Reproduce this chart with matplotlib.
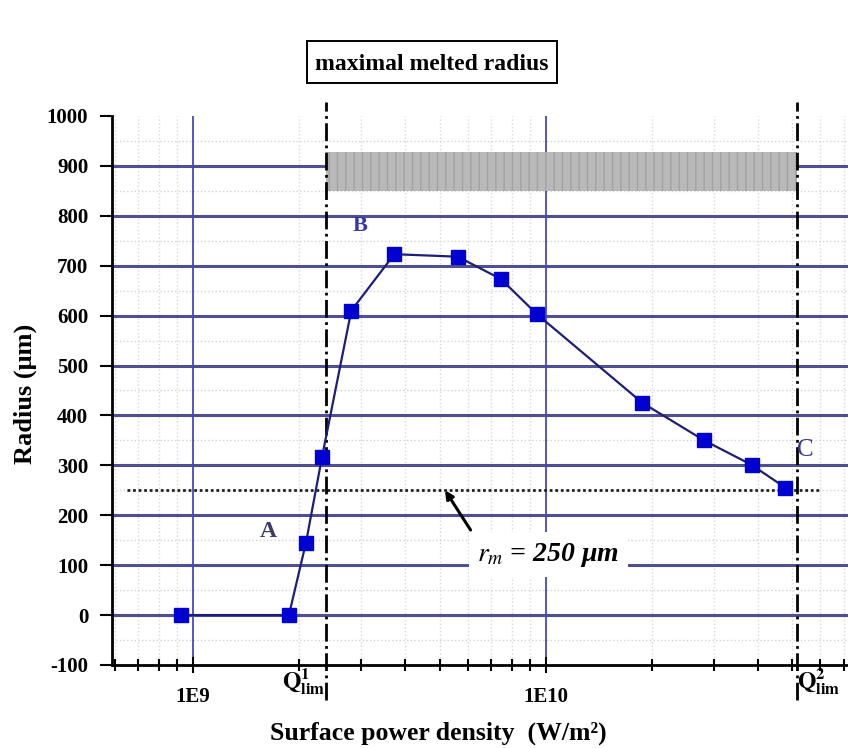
import numpy as np
import matplotlib
matplotlib.use('Agg')
import matplotlib.pyplot as plt
from matplotlib.patches import Rectangle
from matplotlib.ticker import NullFormatter

# melted radius vs surface power density
power_density = [9.25e8, 1.87e9, 2.09e9, 2.32e9, 2.81e9, 3.72e9, 5.63e9,
                 7.47e9, 9.43e9, 1.88e10, 2.81e10, 3.83e10, 4.78e10]
radius = [0, 0, 145, 316, 610, 723, 718, 673, 603, 425, 350, 301, 255]

q_lim1 = 2.38e9
q_lim2 = 5.15e10
r_m = 250
band_low, band_high = 850, 928

x_ticks = [1e9, 1e10]
x_tick_labels = ['1E9', '1E10']
y_ticks = list(range(-100, 1001, 100))

SERIF = ['Liberation Serif', 'DejaVu Serif']
plt.rcParams['font.family'] = SERIF
plt.rcParams['mathtext.fontset'] = 'stix'

fig = plt.figure(figsize=(8.48, 7.48), dpi=100, facecolor='white')
ax = fig.add_axes([0.132, 0.111, 0.868, 0.734])
ax.set_xscale('log')

# grid: navy lines every 100, faint dotted ones in between
for y in range(0, 1000, 100):
    ax.axhline(y, color='#4f4f92', lw=2.2, zorder=1)
for y in range(-50, 1000, 100):
    ax.axhline(y, color='#d2d2dc', lw=1, ls=':', zorder=0.5)
minor_x = [m * 10.0 ** e for e in (8, 9, 10) for m in range(2, 10)]
minor_x = [x for x in minor_x if 5.89e8 < x < 7.19e10]
for x in minor_x:
    ax.axvline(x, color='#d8d8e0', lw=1, ls=':', zorder=0.5)
for x in x_ticks:
    ax.axvline(x, color='#4646c0', lw=1.3, zorder=1)

# shaded band between the two limits
ax.fill_between([q_lim1, q_lim2], band_low, band_high, facecolor='#b9b9b9',
                edgecolor='#a2a2a2', hatch='||', lw=0, zorder=1.5)

# threshold radius
ax.axhline(r_m, xmin=0.02, xmax=0.96, color='#222222', lw=2, ls=(0, (1, 1)), zorder=2)

# limit lines running past the axes
for q in (q_lim1, q_lim2):
    ax.plot([q, q], [-170, 1027], color='black', lw=2, ls='-.', clip_on=False, zorder=3)

ax.plot(power_density, radius, color='#1e1e78', lw=1.6, marker='s', markersize=10,
        markerfacecolor='#0000d0', markeredgecolor='#0000d0', zorder=4)

ax.annotate(r'$r_m$ = 250 μm', xy=(5.18e9, r_m), xytext=(6.4e9, 121),
            fontsize=20, fontstyle='italic', fontweight='bold', ha='left', va='center',
            bbox=dict(boxstyle='square,pad=0.3', fc='white', ec='none'),
            arrowprops=dict(arrowstyle='-|>', lw=2.2, color='black', relpos=(0, 1),
                            shrinkA=2, shrinkB=0, mutation_scale=12),
            zorder=5)

ax.text(1.63e9, 167, 'A', fontsize=17, fontweight='bold', color='#3c3c66',
        ha='center', va='center')
ax.text(2.98e9, 780, 'B', fontsize=16, fontweight='bold', color='#3535a8',
        ha='center', va='center')
ax.text(5.45e10, 330, 'C', fontsize=18, color='#353590', ha='center', va='center')

# axes styling
for side in ('top', 'right'):
    ax.spines[side].set_visible(False)
for side in ('left', 'bottom'):
    ax.spines[side].set_linewidth(2)
    ax.spines[side].set_color('black')
    ax.spines[side].set_zorder(3)

ax.set_yticks(y_ticks)
ax.set_yticklabels([str(v) for v in y_ticks], fontsize=15, fontweight='bold')
ax.tick_params(axis='y', direction='out', length=9, width=1.5, pad=8)
ax.set_xticks(x_ticks)
ax.set_xticklabels(x_tick_labels, fontsize=15, fontweight='bold')
ax.set_xticks(minor_x, minor=True)
ax.xaxis.set_minor_formatter(NullFormatter())
ax.tick_params(axis='x', which='major', direction='inout', length=12, width=1.5, pad=10)
ax.tick_params(axis='x', which='minor', direction='inout', length=9, width=1.5)

ax.set_xlim(5.89e8, 7.19e10)
ax.set_ylim(-100, 1000)

ax.text(q_lim1, -103, r'$\mathbf{Q}_{\mathbf{lim}}^{\mathbf{1}}$', fontsize=17,
        ha='right', va='top')
ax.text(q_lim2, -103, r'$\mathbf{Q}_{\mathbf{lim}}^{\mathbf{2}}$', fontsize=17,
        ha='left', va='top')

fig.text(0.03, 0.473, 'Radius (μm)', rotation=90, fontsize=19, fontweight='bold',
         ha='center', va='center')
fig.text(0.517, 0.02, 'Surface power density  (W/m²)', fontsize=18.5,
         fontweight='bold', ha='center', va='center')

# boxed caption above the plot
fig.add_artist(Rectangle((307 / 848, 1 - 83 / 748), 250 / 848, 42 / 748,
                         transform=fig.transFigure, fc='white', ec='black', lw=1.4))
fig.text(432 / 848, 1 - 64 / 748, 'maximal melted radius', fontsize=17,
         fontweight='bold', ha='center', va='center')

fig.savefig('out.png', dpi=100, facecolor='white')
